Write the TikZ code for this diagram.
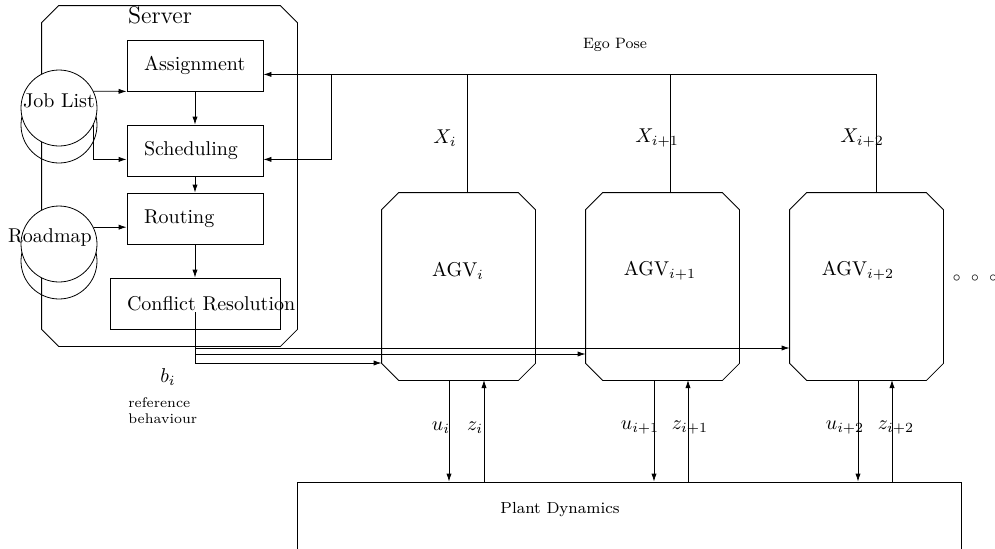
\documentclass[tikz,border=0pt]{standalone}
\usetikzlibrary{arrows.meta,calc}
\newcommand\drawchamfer[1]{%
  \draw ($(#1.north west)+(0,17)$) -- ($(#1.north west)+(17,0)$)
    -- ($(#1.north east)+(-17,0)$) -- ($(#1.north east)+(0,17)$)
    -- ($(#1.south east)+(0,-17)$) -- ($(#1.south east)+(-17,0)$)
    -- ($(#1.south west)+(17,0)$) -- ($(#1.south west)+(0,-17)$) -- cycle;}
\begin{document}
\begin{tikzpicture}[x=0.5pt,y=-0.5pt,
  arr/.style={-{Latex[length=4pt,width=2.6pt]}},
  chbox/.style={rectangle, inner sep=0pt, minimum width=#1},
  procbox/.style={draw, minimum height=25.5pt, inner xsep=8.5pt, inner ysep=0pt,
    text width=#1, align=left},
  dbase/.style={circle, draw, minimum size=38pt, inner sep=0pt},
  lbl/.style={inner sep=0pt},
]
\useasboundingbox (0,0) rectangle (995,548);
\clip (0,0) rectangle (995,548);

% server
\node[chbox=127.5pt, minimum height=170pt] (server) at (169.5,176) {};
\drawchamfer{server}
\node[lbl] (serverlbl) at (160,15) {\large Server};

% process boxes
\node[procbox=51pt] (assign) at (195,65.5) {Assignment};
\node[procbox=51pt] (sched) at (195,150.5) {Scheduling};
\node[procbox=51pt] (route) at (195,218.5) {Routing};
\node[procbox=68pt] (conflict) at (195,303.5) {\rlap{Conflict Resolution}};

% databases
\node[dbase] (jobs2) at (59,125) {};
\node[dbase, fill=white, label={[lbl,yshift=3.5pt]center:Job List}] (jobs) at (59,108) {};
\node[dbase] (road2) at (59,261) {};
\node[dbase, fill=white, label={[lbl,yshift=3.5pt,xshift=-4.5pt]center:Roadmap}] (road) at (59,244) {};

% AGVs
\node[chbox=76.5pt, minimum height=93.5pt] (a1) at (458.5,286.5) {};
\node[chbox=76.5pt, minimum height=93.5pt] (a2) at (662.5,286.5) {};
\node[chbox=76.5pt, minimum height=93.5pt] (a3) at (866.5,286.5) {};
\drawchamfer{a1}
\drawchamfer{a2}
\drawchamfer{a3}
\node[lbl] (a1lbl) at (458,271) {AGV$_i$};
\node[lbl] (a2lbl) at (660,271) {AGV$_{i+1}$};
\node[lbl] (a3lbl) at (858,271) {AGV$_{i+2}$};
\node[lbl] (dots) at (975,278) {\scriptsize$\circ$\hspace{5pt}$\circ$\hspace{5pt}$\circ$};

% plant
\node[draw, minimum width=332pt, minimum height=59pt, inner sep=0pt] (plant) at (629,541) {};
\node[lbl] (plantlbl) at (560,510) {\footnotesize Plant Dynamics};

% internal server arrows
\draw[arr] (jobs.26.6) -- (assign.south west);
\draw[arr] (jobs.-26.6) |- ($(sched.south west)+(0,-17)$);
\draw[arr] (road.26.6) -- (road.26.6 -| route.west);
\draw[arr] (assign) -- (sched);
\draw[arr] (sched) -- (route);
\draw[arr] (route) -- (conflict);

% ego pose feedback
\coordinate (t1) at (467,193);
\coordinate (t2) at (670,193);
\coordinate (t3) at (876,193);
\coordinate (fb) at (331,74);
\draw[arr] (t3) |- ($(assign.south east)+(0,-17)$);
\draw (t1) -- (t1 |- fb);
\draw (t2) -- (t2 |- fb);
\draw[arr] (fb) |- ($(sched.south east)+(0,-17)$);
\node[lbl] (ego) at (615,45) {\fontsize{7.5}{9}\selectfont Ego Pose};
\node[lbl] (x1) at (445,138) {$X_i$};
\node[lbl] (x2) at (657,138) {$X_{i+1}$};
\node[lbl] (x3) at (862,138) {$X_{i+2}$};

% reference behaviour
\coordinate (cr) at ($(conflict.south)+(0,-17)$);
\draw[arr] (cr) |- (a3.west |- 0,348);
\draw[arr] (cr) |- (a2.west |- 0,354);
\draw[arr] (cr) |- (a1.west |- 0,363);
\node[lbl] (bi) at (168,377) {$b_i$};
\node[lbl, anchor=north west, align=left, font=\scriptsize] (refb) at (128,397) {reference\\behaviour};

% u/z
\coordinate (u1) at (449,380); \coordinate (z1) at (484,380);
\coordinate (u2) at (654,380); \coordinate (z2) at (688,380);
\coordinate (u3) at (858,380); \coordinate (z3) at (892,380);
\draw[arr] (u1) -- (u1 |- plant.north);
\draw[arr] (z1 |- plant.north) -- (z1);
\draw[arr] (u2) -- (u2 |- plant.north);
\draw[arr] (z2 |- plant.north) -- (z2);
\draw[arr] (u3) -- (u3 |- plant.north);
\draw[arr] (z3 |- plant.north) -- (z3);
\node[lbl] (lu1) at (441,428) {$u_i$};
\node[lbl] (lz1) at (475,428) {$z_i$};
\node[lbl] (lu2) at (640,428) {$u_{i+1}$};
\node[lbl] (lz2) at (690,428) {$z_{i+1}$};
\node[lbl] (lu3) at (845,428) {$u_{i+2}$};
\node[lbl] (lz3) at (896,428) {$z_{i+2}$};
\end{tikzpicture}
\end{document}
